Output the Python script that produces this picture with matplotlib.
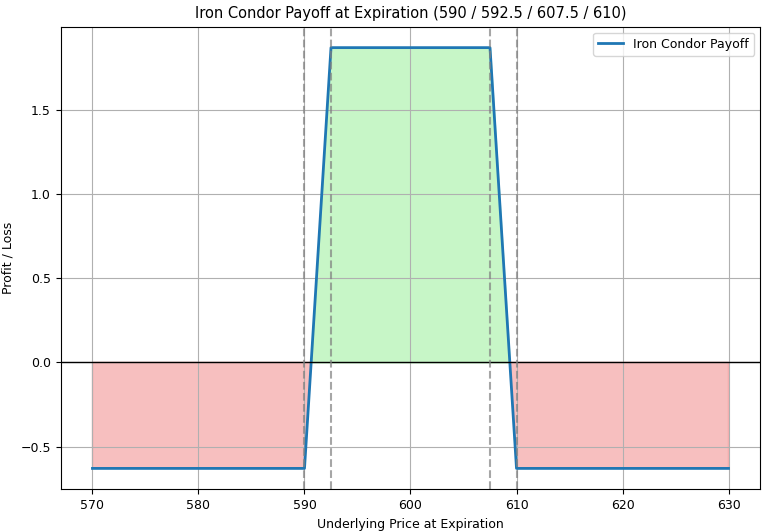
import numpy as np
import matplotlib.pyplot as plt

plt.rcParams['font.size'] = 9

# strikes and payoff corner points
strikes = [590, 592.5, 607.5, 610]
prices = np.array([570, 590, 592.5, 607.5, 610, 630])
payoff = np.array([-0.63, -0.63, 1.87, 1.87, -0.63, -0.63])

fig, ax = plt.subplots(figsize=(7.68, 5.32), dpi=100)
ax.plot(prices, payoff, color='#1f77b4', linewidth=2, label='Iron Condor Payoff')
ax.fill_between(prices, payoff, 0, where=payoff > 0, interpolate=True, color='lightgreen', alpha=0.5)
ax.fill_between(prices, payoff, 0, where=payoff < 0, interpolate=True, color='lightcoral', alpha=0.5)
ax.axhline(0, color='black', linewidth=1)
for k in strikes:
    ax.axvline(k, color='gray', linestyle='--', alpha=0.7)

ax.set_title('Iron Condor Payoff at Expiration (590 / 592.5 / 607.5 / 610)', fontsize=10.5)
ax.set_xlabel('Underlying Price at Expiration')
ax.set_ylabel('Profit / Loss')
ax.grid(True)
ax.legend(loc='upper right')
fig.subplots_adjust(left=0.079, right=0.99, top=0.95, bottom=0.08)
fig.savefig('out.png')
